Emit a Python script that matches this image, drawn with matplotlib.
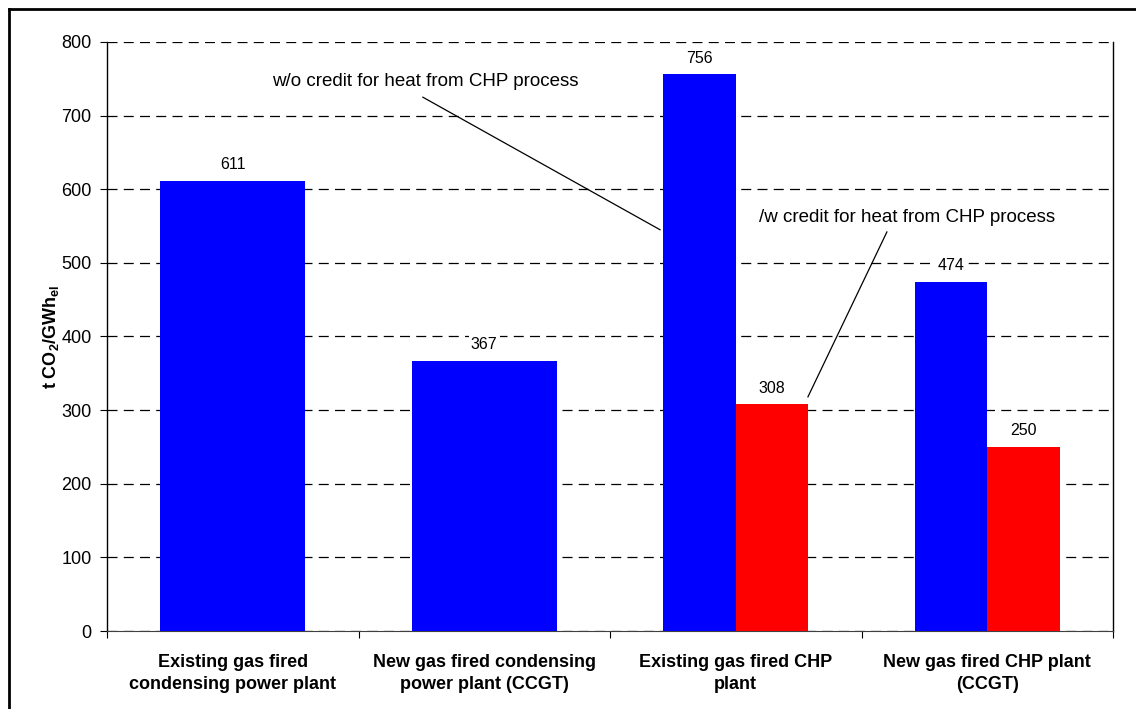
import numpy as np
import matplotlib
matplotlib.use('Agg')
import matplotlib.pyplot as plt
from matplotlib.lines import Line2D

plt.rcParams['font.family'] = ['Liberation Sans', 'DejaVu Sans']
plt.rcParams['mathtext.fontset'] = 'custom'
plt.rcParams['mathtext.rm'] = 'Liberation Sans:bold'
plt.rcParams['mathtext.it'] = 'Liberation Sans:bold'
plt.rcParams['mathtext.bf'] = 'Liberation Sans:bold'

categories = ['Existing gas fired\ncondensing power plant',
              'New gas fired condensing\npower plant (CCGT)',
              'Existing gas fired CHP\nplant',
              'New gas fired CHP plant\n(CCGT)']
no_credit = [611, 367, 756, 474]
with_credit = [np.nan, np.nan, 308, 250]

fig = plt.figure(figsize=(11.36, 7.09), dpi=100)
ax = fig.add_axes([107/1136, 1-631/709, (1113-107)/1136, (631-42)/709])

def value_label(xp, v):
    ax.text(xp, v + 22, str(int(v)), ha='center', va='center', fontsize=11.5, zorder=5,
            bbox=dict(facecolor='white', edgecolor='none', pad=1.5))

x = np.arange(len(categories))
for i in range(len(categories)):
    if np.isnan(with_credit[i]):
        ax.bar(x[i], no_credit[i], width=0.577, color='#0000ff', zorder=3)
        value_label(x[i], no_credit[i])
    else:
        ax.bar(x[i] - 0.144, no_credit[i], width=0.288, color='#0000ff', zorder=3)
        ax.bar(x[i] + 0.144, with_credit[i], width=0.288, color='#ff0000', zorder=3)
        value_label(x[i] - 0.144, no_credit[i])
        value_label(x[i] + 0.144, with_credit[i])

ax.set_xlim(-0.5, 3.5)
ax.set_ylim(0, 800)
ax.set_yticks(np.arange(0, 801, 100))
ax.yaxis.grid(True, color='black', linestyle=(0, (8, 5)), linewidth=0.9, zorder=0)
ax.set_xticks(np.arange(-0.5, 3.6, 1))
ax.set_xticklabels([])
ax.tick_params(axis='y', direction='out', length=5, labelsize=13, pad=6)
ax.tick_params(axis='x', direction='out', length=5)
for i, c in enumerate(categories):
    ax.text(x[i], -31, c, ha='center', va='top', fontsize=13, fontweight='bold',
            linespacing=1.4)

ax.spines['top'].set_visible(False)
ax.spines['bottom'].set_color('#404040')
ax.spines['left'].set_linewidth(1.0)
ax.spines['right'].set_linewidth(1.0)

ax.set_ylabel(r't CO$_{2}$/GWh$_{\mathbf{el}}$', fontsize=13, fontweight='bold', labelpad=0)

# annotations
ax.text(0.156, 746, 'w/o credit for heat from CHP process', fontsize=13.5, va='center', ha='left')
ax.plot([0.756, 1.699], [725, 545], color='black', linewidth=0.9, zorder=4)
ax.text(2.092, 562, '/w credit for heat from CHP process', fontsize=13.5, va='center', ha='left')
ax.plot([2.287, 2.601], [318, 542], color='black', linewidth=0.9, zorder=4)

# outer frame (top and left edges)
fig.add_artist(Line2D([9/1136, 1.01], [1-9/709, 1-9/709], color='black', linewidth=2.0,
                      transform=fig.transFigure))
fig.add_artist(Line2D([9/1136, 9/1136], [1-9/709, -0.01], color='black', linewidth=2.0,
                      transform=fig.transFigure))

fig.savefig('out.png', dpi=100)
